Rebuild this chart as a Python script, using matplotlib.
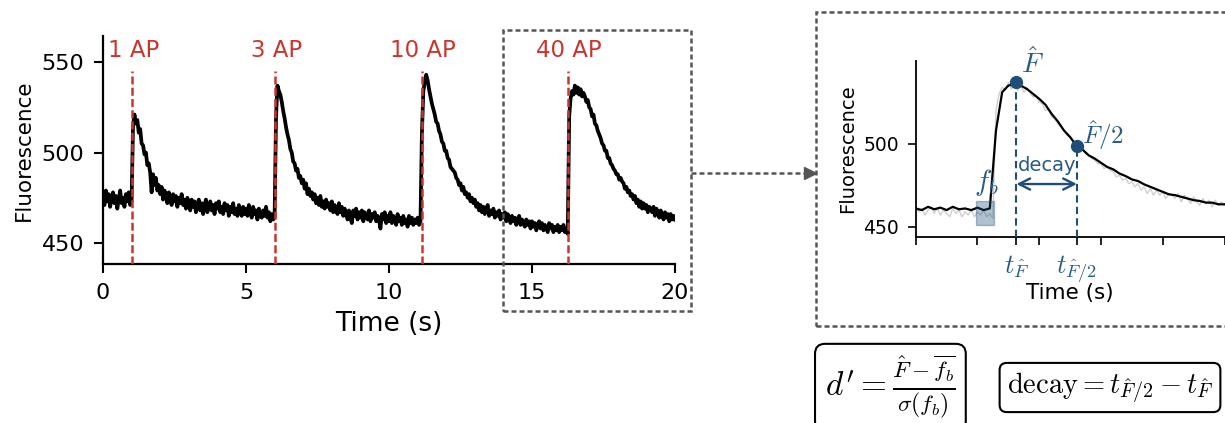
import numpy as np
import matplotlib
matplotlib.use("Agg")
import matplotlib.pyplot as plt
from matplotlib.patches import Rectangle
from matplotlib.lines import Line2D

plt.rcParams['font.family'] = ['DejaVu Sans']
plt.rcParams['mathtext.fontset'] = 'cm'

# ---------------- data ----------------
sample_interval_s = 0.05
fluorescence = [
    476, 471, 479, 473, 477, 470, 475, 478, 472, 476, 469, 474, 479, 472, 475, 470, 477, 473, 478, 471,  # 0-1 s
    473, 515, 521, 516, 518, 511, 513, 505, 504, 499, 500, 493, 494, 489, 478, 488, 482, 486, 479, 482,  # 1-2 s
    477, 481, 474, 479, 476, 472, 478, 474, 471, 477, 473, 476, 470, 475, 472, 477, 471, 474, 469, 475,  # 2-3 s
    472, 468, 474, 470, 473, 467, 471, 474, 468, 472, 466, 471, 474, 467, 470, 473, 468, 471, 466, 472,  # 3-4 s
    469, 473, 467, 470, 466, 472, 468, 471, 465, 470, 467, 472, 466, 469, 465, 471, 468, 465, 470, 466,  # 4-5 s
    469, 465, 471, 467, 464, 470, 466, 468, 463, 469, 466, 464, 468, 465, 470, 464, 467, 462, 466, 463,  # 5-6 s
    464, 520, 537, 534, 532, 528, 523, 519, 514, 510, 507, 502, 500, 495, 494, 490, 491, 486, 487, 483,  # 6-7 s
    485, 480, 483, 477, 480, 476, 478, 474, 477, 472, 475, 471, 476, 470, 473, 469, 474, 470, 472, 468,  # 7-8 s
    473, 467, 471, 468, 466, 472, 467, 470, 465, 469, 466, 463, 468, 464, 461, 468, 465, 469, 463, 467,  # 8-9 s
    464, 468, 462, 467, 465, 463, 468, 462, 466, 464, 467, 462, 465, 463, 458, 466, 463, 467, 461, 465,  # 9-10 s
    462, 467, 461, 465, 463, 460, 466, 462, 464, 460, 465, 461, 463, 459, 465, 461, 464, 460, 463, 461,  # 10-11 s
    464, 460, 462, 510, 534, 539, 543, 540, 535, 531, 527, 524, 521, 517, 516, 512, 510, 506, 505, 501,  # 11-12 s
    501, 497, 496, 492, 491, 490, 489, 486, 485, 482, 483, 479, 481, 477, 478, 475, 477, 473, 475, 472,  # 12-13 s
    474, 470, 472, 468, 471, 467, 470, 466, 469, 471, 465, 468, 466, 469, 464, 467, 465, 468, 463, 466,  # 13-14 s
    464, 467, 462, 466, 464, 461, 465, 462, 464, 460, 463, 465, 460, 463, 461, 459, 463, 460, 462, 458,  # 14-15 s
    462, 459, 461, 457, 460, 462, 458, 461, 457, 460, 458, 456, 461, 458, 460, 456, 459, 457, 460, 456,  # 15-16 s
    459, 457, 460, 456, 458, 455, 520, 530, 534, 532, 537, 533, 536, 532, 535, 531, 533, 531, 528, 529,  # 16-17 s
    525, 524, 520, 521, 516, 515, 512, 510, 508, 505, 504, 501, 501, 497, 497, 494, 493, 491, 490, 488,  # 17-18 s
    488, 485, 486, 484, 483, 480, 481, 478, 479, 476, 477, 474, 476, 472, 474, 470, 473, 469, 472, 469,  # 18-19 s
    471, 467, 470, 469, 467, 470, 465, 469, 467, 464, 468, 465, 463, 467, 464, 466, 462, 466, 463, 465,  # 19-20 s
    463,
]
time_s = np.arange(len(fluorescence)) * sample_interval_s

stim_times = [1.02, 6.01, 11.14, 16.25]
stim_labels = ['1 AP', '3 AP', '10 AP', '40 AP']
main_xticks = [0, 5, 10, 15, 20]
main_yticks = [450, 500, 550]

# zoomed 40 AP response (smoothed), 15.0-20.0 s every 0.1 s
inset_start_s = 15.0
inset_step_s = 0.1
inset_smoothed = [
    461, 460, 462, 460.5, 461.5, 460, 462, 460.5, 461, 460,          # 15.0-15.9
    461.5, 460, 461, 508, 531, 535, 536, 535, 533, 530,              # 16.0-16.9
    527, 523.5, 518, 513.5, 508, 504, 499, 496.5, 493, 491,          # 17.0-17.9
    488.5, 486, 484.5, 482, 480.5, 478.5, 477.5, 475.5, 474, 472.5,  # 18.0-18.9
    471, 469.5, 469, 468, 467, 466, 465.5, 464.5, 464.5, 463.5,      # 19.0-19.9
    463.5,                                                           # 20.0
]
inset_time = inset_start_s + np.arange(len(inset_smoothed)) * inset_step_s
peak_time, peak_value = 16.63, 537.0
half_time, half_value = 17.61, 498.5
fb_window = (15.97, 16.27)
fb_range = (451.0, 465.5)
decay_arrow_level = 475.7
inset_grid_ticks = [15, 16, 17, 18, 19, 20]
inset_yticks = [450, 500]

# ---------------- styling ----------------
W, H = 1225, 423
RED = '#c9372c'
BLUE = '#1f4e79'
BLUE_TXT = '#285b86'
GRAY = '#555555'

fig = plt.figure(figsize=(W / 100, H / 100), dpi=100)


def fx(px):
    return px / W


def fy(py):
    return 1 - py / H


# ---------------- main trace ----------------
ax = fig.add_axes([fx(103), fy(264), fx(675) - fx(103), fy(36) - fy(264)])
ylo, yhi = 438.4, 564.4
ax.plot(time_s, fluorescence, color='black', lw=2.7, zorder=3)
ax.set_xlim(0, 20)
ax.set_ylim(ylo, yhi)
ax.set_xticks(main_xticks)
ax.set_yticks(main_yticks)
for s in ['top', 'right']:
    ax.spines[s].set_visible(False)
for s in ['left', 'bottom']:
    ax.spines[s].set_linewidth(1.6)
ax.tick_params(length=6.5, width=1.5, pad=7, labelsize=16)
for t, lab in zip(stim_times, stim_labels):
    ax.vlines(t, ylo, 545, colors=RED, linestyles=(0, (3.2, 1.3)), lw=1.8, zorder=4)
    ax.text(t + 0.05, 556.4, lab, ha='center', va='center', color=RED, fontsize=16.5)
ax.set_xlabel('Time (s)', fontsize=19)
ax.xaxis.set_label_coords(0.5, -0.205)
ax.set_ylabel('Fluorescence', fontsize=15.5)
ax.yaxis.set_label_coords(-0.121, 0.5)

# ---------------- inset ----------------
axi = fig.add_axes([fx(915.7), fy(237), fx(1224.5) - fx(915.7), fy(61) - fy(237)])
iylo, iyhi = 443.8, 549.8
mask = time_s >= inset_start_s - 1e-9
axi.plot(time_s[mask], np.asarray(fluorescence)[mask], color='#cfcfcf', lw=1.0, zorder=2)
axi.plot(inset_time, inset_smoothed, color='black', lw=1.6, zorder=3)
axi.add_patch(Rectangle((fb_window[0], fb_range[0]), fb_window[1] - fb_window[0],
                        fb_range[1] - fb_range[0], facecolor=BLUE, alpha=0.35,
                        edgecolor=BLUE, lw=1.0, zorder=4))
axi.vlines([peak_time, half_time], iylo, [peak_value, half_value], colors=BLUE,
           linestyles=(0, (3.5, 2)), lw=1.5, zorder=4)
axi.plot([peak_time, half_time], [peak_value, half_value], 'o', color=BLUE, ms=8.5, zorder=5,
         clip_on=False)
axi.annotate('', xy=(half_time, decay_arrow_level), xytext=(peak_time, decay_arrow_level),
             arrowprops=dict(arrowstyle='<->', color=BLUE, lw=1.7, shrinkA=0, shrinkB=0,
                             mutation_scale=20), zorder=5)
axi.text((peak_time + half_time) / 2, 487.0, 'decay', ha='center', va='center',
         color=BLUE_TXT, fontsize=14)
axi.text(peak_time + 0.26, 548.0, r'$\hat{F}$', ha='center', va='center',
         color=BLUE_TXT, fontsize=20)
axi.text(half_time + 0.08, 505.5, r'$\hat{F}/2$', ha='left', va='center',
         color=BLUE_TXT, fontsize=18)
axi.text(sum(fb_window) / 2 + 0.02, 476.5, r'$f_b$', ha='center', va='center',
         color=BLUE_TXT, fontsize=21)
axi.set_xlim(inset_start_s, 20)
axi.set_ylim(iylo, iyhi)
ticks = list(inset_grid_ticks) + [peak_time, half_time]
axi.set_xticks(ticks)
axi.set_xticklabels([''] * len(inset_grid_ticks) + [r'$t_{\hat{F}}$', r'$t_{\hat{F}/2}$'],
                    fontsize=19)
for lab in axi.get_xticklabels()[-2:]:
    lab.set_color(BLUE_TXT)
axi.set_yticks(inset_yticks)
for s in ['top', 'right']:
    axi.spines[s].set_visible(False)
for s in ['left', 'bottom']:
    axi.spines[s].set_linewidth(1.3)
axi.tick_params(axis='y', length=6, width=1.2, pad=6, labelsize=13.5)
axi.tick_params(axis='x', length=6, width=1.2, pad=6)
axi.set_xlabel('Time (s)', fontsize=15.5)
axi.xaxis.set_label_coords(0.5, -0.26)
axi.set_ylabel('Fluorescence', fontsize=14)
axi.yaxis.set_label_coords(-0.191, 0.5)

# ---------------- dashed boxes and connector ----------------
box_kw = dict(fill=False, edgecolor=GRAY, lw=1.8, linestyle=(0, (2.0, 1.2)),
              transform=fig.transFigure, zorder=10)
fig.add_artist(Rectangle((fx(502.5), fy(311)), fx(691) - fx(502.5), fy(30) - fy(311), **box_kw))
fig.add_artist(Rectangle((fx(816), fy(326)), fx(1240) - fx(816), fy(12) - fy(326), **box_kw))
fig.add_artist(Line2D([fx(691), fx(806)], [fy(173), fy(173)], color=GRAY, lw=1.8,
                      linestyle=(0, (2.0, 1.2)), transform=fig.transFigure))
fig.add_artist(Line2D([fx(810)], [fy(173)], color=GRAY, marker='>', ms=9, lw=0,
                      transform=fig.transFigure))

# ---------------- formula boxes ----------------
fig.text(fx(890.4), fy(387.5), r"$d' = \frac{\hat{F} - \overline{f_b}}{\sigma(f_b)}$",
         ha='center', va='center', fontsize=24,
         bbox=dict(boxstyle='round,pad=0.3', fc='white', ec='black', lw=1.5))
fig.text(fx(1110), fy(387.5), r"$\mathrm{decay} = t_{\hat{F}/2} - t_{\hat{F}}$",
         ha='center', va='center', fontsize=20.5,
         bbox=dict(boxstyle='round,pad=0.25', fc='white', ec='black', lw=1.5))

fig.savefig('out.png', dpi=100)
